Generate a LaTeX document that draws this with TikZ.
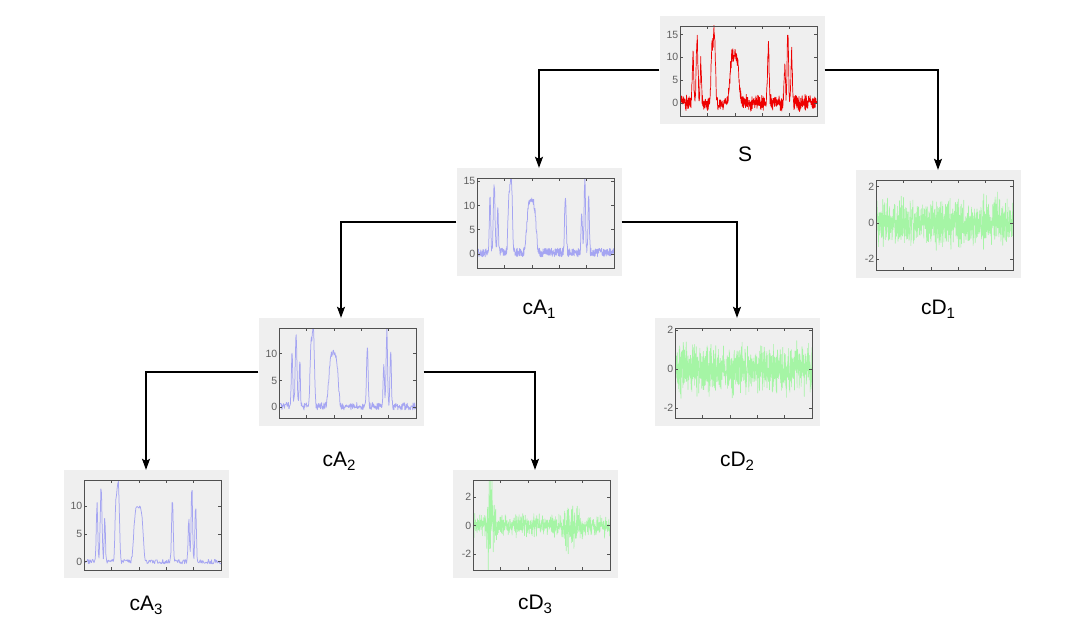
\documentclass[tikz,border=0pt]{standalone}
\usepackage{fontspec}
\setmainfont{Liberation Sans}
\usetikzlibrary{calc,arrows.meta}
\definecolor{boxgray}{RGB}{239,239,239}
\definecolor{sigred}{RGB}{238,0,0}
\definecolor{sigblue}{RGB}{165,165,242}
\definecolor{siggreen}{RGB}{165,245,165}
\definecolor{framec}{RGB}{80,80,80}
\definecolor{tickc}{RGB}{95,95,95}
\tikzset{
  wbox/.style={rectangle,minimum width=165pt,minimum height=108pt,fill=boxgray,draw=none,inner sep=0pt},
  tlab/.style={anchor=east,inner sep=1.5pt,font=\fontsize{10.5}{11}\selectfont,text=tickc},
  lbl/.style={anchor=base,font=\fontsize{21}{25}\selectfont,inner sep=0pt},
  arr/.style={line width=1.1pt,-{Stealth[length=11pt,width=8pt,inset=2pt]}},
  declare function={
    gs(\xx,\cc,\ww)=exp(0-(min(abs((\xx-\cc)/\ww),3))^2);
    hs(\xx,\cc,\ww)=exp(0-(min(abs((\xx-\cc)/\ww),2))^4);
    sig(\xx)=11*gs(\xx,0.095,0.007)+14*gs(\xx,0.125,0.009)+9*gs(\xx,0.152,0.006)
      +13*hs(\xx,0.243,0.019)+3*gs(\xx,0.25,0.006)+10.5*hs(\xx,0.397,0.038)
      +12*gs(\xx,0.645,0.008)+8*gs(\xx,0.765,0.007)+15*gs(\xx,0.787,0.007)+11*gs(\xx,0.815,0.007);
  }
}
\newcommand{\sublbl}[2]{#1{\fontsize{15}{15}\selectfont\raisebox{-4pt}{#2}}}
\newcommand{\wavebox}[9]{%
  \node[wbox] (#1) at (#2) {};
  \pgfmathsetmacro\wyu{90/((#4)-(#3))}%
  \pgfmathsetmacro\wyh{(#4)-(#3)}%
  \begin{scope}[shift={($(#1.center)+(-62,46)$)},x=137pt,y=\wyu pt]
    \fill[boxgray] (0,0) rectangle (1,\wyh);
    \begin{scope}
      \clip (0,0) rectangle (1,\wyh);
      \draw[#5,line width=#9,line join=round] plot[samples=#7,domain=0:1] (\x,{(#6)-(#3)});
    \end{scope}
    \draw[framec,line width=0.9pt] (0,0) rectangle (1,\wyh);
    \foreach \tx in {0.2,0.4,0.6,0.8}{
      \draw[framec,line width=0.6pt] (\tx,0) -- ++(0,3pt) (\tx,\wyh) -- ++(0,-3pt);}
    \foreach \vv/\lab in {#8}{
      \draw[framec,line width=0.6pt] (0,{\vv-(#3)}) -- ++(3pt,0) (1,{\vv-(#3)}) -- ++(-3pt,0);
      \node[tlab] at (0,{\vv-(#3)}) {\lab};}
  \end{scope}}
\begin{document}
\begin{tikzpicture}[x=1pt,y=-1pt]
\useasboundingbox[fill=white] (0,0) rectangle (1069,618);
\pgfmathsetseed{11}
\wavebox{S}{742,70}{-2.9}{16.9}{sigred}{sig(\x)+1.3*rand+0.7*rand}{600}{0/0,5/5,10/10,15/15}{0.7pt}
\pgfmathsetseed{23}
\wavebox{cA1}{539,222}{-2.9}{15.7}{sigblue}{sig(\x)+0.3+0.9*rand}{500}{0/0,5/5,10/10,15/15}{0.75pt}
\pgfmathsetseed{37}
\wavebox{cD1}{938,224}{-2.6}{2.37}{siggreen}{0.6*(rand+rand+rand)}{900}{-2/-2,0/0,2/2}{0.6pt}
\pgfmathsetseed{41}
\wavebox{cA2}{341,372}{-2}{14.8}{sigblue}{0.95*sig(\x)+0.2+0.7*rand}{350}{0/0,5/5,10/10}{0.75pt}
\pgfmathsetseed{53}
\wavebox{cD2}{737,372}{-2.5}{2.1}{siggreen}{0.55*(rand+rand+rand)}{900}{-2/-2,0/0,2/2}{0.6pt}
\pgfmathsetseed{67}
\wavebox{cA3}{146,524}{-1.5}{14.7}{sigblue}{0.95*sig(\x)+0.4*rand}{220}{0/0,5/5,10/10}{0.75pt}
\pgfmathsetseed{79}
\wavebox{cD3}{535,524}{-3.1}{3.2}{siggreen}{(0.33+2.0*gs(\x,0.13,0.025)+0.7*gs(\x,0.72,0.05))*(rand+rand+rand)}{700}{-2/-2,0/0,2/2}{0.6pt}
\node[lbl] (Sl) at ($(S.south)+(3,37)$) {S};
\node[lbl] (cA1l) at ($(cA1.south)+(0,38)$) {\sublbl{cA}{1}};
\node[lbl] (cD1l) at ($(cD1.south)+(0,36)$) {\sublbl{cD}{1}};
\node[lbl] (cA2l) at ($(cA2.south)+(-2,40)$) {\sublbl{cA}{2}};
\node[lbl] (cD2l) at ($(cD2.south)+(0,40)$) {\sublbl{cD}{2}};
\node[lbl] (cA3l) at ($(cA3.south)+(0,32)$) {\sublbl{cA}{3}};
\node[lbl] (cD3l) at ($(cD3.south)+(0,31)$) {\sublbl{cD}{3}};
\draw[arr] (S.west) -| (cA1.north);
\draw[arr] (S.east) -| (cD1.north);
\draw[arr] (cA1.west) -| (cA2.north);
\draw[arr] (cA1.east) -| (cD2.north);
\draw[arr] (cA2.west) -| (cA3.north);
\draw[arr] (cA2.east) -| (cD3.north);
\end{tikzpicture}
\end{document}
